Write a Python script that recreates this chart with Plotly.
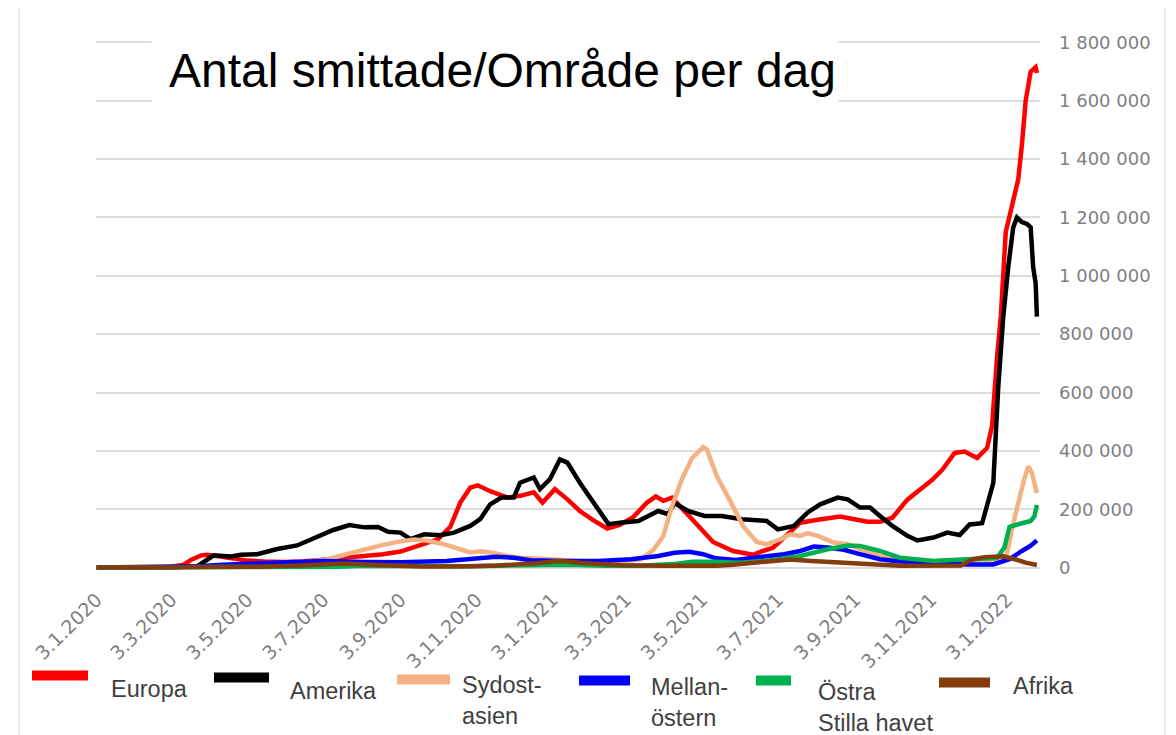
import plotly.graph_objects as go

# tick labels on the date axis (d.m.yyyy, every second month)
tick_dates = ["2020-01-03", "2020-03-03", "2020-05-03", "2020-07-03", "2020-09-03", "2020-11-03",
              "2021-01-03", "2021-03-03", "2021-05-03", "2021-07-03", "2021-09-03", "2021-11-03",
              "2022-01-03"]
tick_labels = ["3.1.2020", "3.3.2020", "3.5.2020", "3.7.2020", "3.9.2020", "3.11.2020",
               "3.1.2021", "3.3.2021", "3.5.2021", "3.7.2021", "3.9.2021", "3.11.2021",
               "3.1.2022"]

# Europa
europa_dates = ["2020-01-03", "2020-03-01", "2020-03-13", "2020-03-19", "2020-03-27", "2020-04-01",
                "2020-04-11", "2020-04-22", "2020-05-03", "2020-05-16", "2020-06-01", "2020-06-17",
                "2020-07-03", "2020-07-19", "2020-08-04", "2020-08-20", "2020-09-03", "2020-09-14",
                "2020-10-03", "2020-10-13", "2020-10-21", "2020-10-29", "2020-11-04", "2020-11-14",
                "2020-11-28", "2020-12-08", "2020-12-19", "2020-12-26", "2021-01-05", "2021-01-15",
                "2021-01-25", "2021-02-05", "2021-02-16", "2021-02-26", "2021-03-09", "2021-03-20",
                "2021-03-27", "2021-04-02", "2021-04-09", "2021-04-21", "2021-05-02", "2021-05-12",
                "2021-05-28", "2021-06-08", "2021-06-13", "2021-06-21", "2021-06-29", "2021-07-05",
                "2021-07-13", "2021-07-21", "2021-08-04", "2021-08-22", "2021-09-13", "2021-09-23",
                "2021-10-03", "2021-10-15", "2021-10-25", "2021-11-04", "2021-11-12", "2021-11-22",
                "2021-11-30", "2021-12-10", "2021-12-18", "2021-12-22", "2021-12-26", "2021-12-29",
                "2022-01-02", "2022-01-05", "2022-01-10", "2022-01-12", "2022-01-15", "2022-01-18",
                "2022-01-22", "2022-01-26", "2022-01-27"]
europa = [0, 1000, 10000, 27000, 42000, 44000,
          38000, 30000, 24000, 21000, 19000, 21000,
          27000, 33000, 38000, 46000, 55000, 69000,
          97000, 140000, 223000, 274000, 282000, 262000,
          240000, 246000, 258000, 223000, 269000, 234000,
          194000, 162000, 134000, 146000, 174000, 223000,
          244000, 229000, 240000, 185000, 132000, 88000,
          57000, 46000, 44000, 57000, 68000, 91000,
          123000, 154000, 164000, 175000, 157000, 157000,
          171000, 233000, 267000, 301000, 335000, 393000,
          398000, 376000, 410000, 485000, 720000, 860000,
          1150000, 1200000, 1290000, 1330000, 1450000, 1600000,
          1700000, 1715000, 1695000]

# Amerika
amerika_dates = ["2020-01-03", "2020-03-01", "2020-03-24", "2020-04-01", "2020-04-06", "2020-04-20",
                 "2020-04-28", "2020-05-11", "2020-05-27", "2020-06-12", "2020-06-28", "2020-07-11",
                 "2020-07-24", "2020-08-05", "2020-08-16", "2020-08-24", "2020-09-03", "2020-09-11",
                 "2020-09-22", "2020-10-05", "2020-10-16", "2020-10-29", "2020-11-06", "2020-11-14",
                 "2020-11-23", "2020-12-03", "2020-12-08", "2020-12-19", "2020-12-24", "2021-01-01",
                 "2021-01-09", "2021-01-15", "2021-01-25", "2021-02-05", "2021-02-17", "2021-02-26",
                 "2021-03-13", "2021-03-29", "2021-04-06", "2021-04-11", "2021-04-22", "2021-05-05",
                 "2021-05-19", "2021-06-04", "2021-06-24", "2021-07-03", "2021-07-16", "2021-07-27",
                 "2021-08-06", "2021-08-20", "2021-08-28", "2021-09-07", "2021-09-15", "2021-09-23",
                 "2021-10-03", "2021-10-15", "2021-10-23", "2021-11-05", "2021-11-16", "2021-11-26",
                 "2021-12-04", "2021-12-14", "2021-12-20", "2021-12-23", "2021-12-27", "2021-12-31",
                 "2022-01-04", "2022-01-08", "2022-01-11", "2022-01-15", "2022-01-19", "2022-01-22",
                 "2022-01-24", "2022-01-26", "2022-01-27"]
amerika = [0, 0, 5000, 27000, 42000, 38000,
           44000, 46000, 64000, 76000, 106000, 129000,
           146000, 138000, 139000, 123000, 120000, 98000,
           114000, 111000, 120000, 143000, 166000, 217000,
           240000, 240000, 291000, 309000, 269000, 303000,
           371000, 360000, 291000, 223000, 149000, 154000,
           160000, 194000, 183000, 221000, 194000, 177000,
           177000, 166000, 160000, 131000, 143000, 189000,
           217000, 240000, 234000, 206000, 206000, 177000,
           143000, 109000, 93000, 103000, 120000, 112000,
           148000, 152000, 240000, 290000, 620000, 860000,
           1030000, 1166000, 1200000, 1184000, 1178000, 1166000,
           1030000, 975000, 860000]

# Sydost-asien
sydost_dates = ["2020-01-03", "2020-03-15", "2020-04-15", "2020-05-15", "2020-06-15", "2020-07-05",
                "2020-07-25", "2020-08-05", "2020-08-20", "2020-09-03", "2020-09-14", "2020-09-25",
                "2020-10-08", "2020-10-21", "2020-10-29", "2020-11-06", "2020-11-17", "2020-11-28",
                "2020-12-08", "2020-12-24", "2021-01-09", "2021-01-25", "2021-02-20", "2021-03-15",
                "2021-03-25", "2021-04-02", "2021-04-09", "2021-04-17", "2021-04-25", "2021-05-04",
                "2021-05-07", "2021-05-15", "2021-05-25", "2021-06-05", "2021-06-16", "2021-06-24",
                "2021-07-05", "2021-07-13", "2021-07-21", "2021-07-27", "2021-08-04", "2021-08-17",
                "2021-08-28", "2021-09-07", "2021-09-23", "2021-10-09", "2021-11-05", "2021-12-02",
                "2021-12-23", "2021-12-31", "2022-01-03", "2022-01-08", "2022-01-12", "2022-01-16",
                "2022-01-20", "2022-01-23", "2022-01-27"]
sydost = [0, 0, 3000, 8000, 16000, 28000,
          50000, 64000, 78000, 90000, 96000, 92000,
          80000, 63000, 52000, 56000, 50000, 40000,
          34000, 30000, 28000, 23000, 17000, 28000,
          60000, 108000, 210000, 303000, 375000, 413000,
          405000, 314000, 234000, 143000, 88000, 80000,
          97000, 114000, 109000, 118000, 109000, 86000,
          80000, 63000, 40000, 29000, 23000, 22000,
          25000, 30000, 50000, 150000, 225000, 290000,
          347000, 325000, 256000]

# Mellanöstern
mellan_dates = ["2020-01-03", "2020-03-01", "2020-03-25", "2020-04-13", "2020-05-06", "2020-06-06",
                "2020-07-03", "2020-08-05", "2020-09-03", "2020-10-10", "2020-11-06", "2020-11-19",
                "2020-12-03", "2020-12-16", "2021-01-13", "2021-02-09", "2021-03-07", "2021-03-29",
                "2021-04-11", "2021-04-23", "2021-05-04", "2021-05-14", "2021-05-30", "2021-06-21",
                "2021-07-08", "2021-07-21", "2021-08-01", "2021-08-12", "2021-08-25", "2021-09-07",
                "2021-09-23", "2021-10-09", "2021-11-05", "2021-12-02", "2021-12-23", "2022-01-05",
                "2022-01-15", "2022-01-22", "2022-01-27"]
mellan = [0, 1000, 5000, 10000, 14000, 20000,
          23000, 19000, 18000, 23000, 34000, 37000,
          34000, 25000, 23000, 23000, 29000, 40000,
          51000, 54000, 46000, 32000, 26000, 38000,
          46000, 57000, 72000, 69000, 61000, 46000,
          29000, 21000, 15000, 11000, 11000, 29000,
          57000, 75000, 93000]

# Östra Stilla havet
ostra_dates = ["2020-01-03", "2020-01-25", "2020-02-06", "2020-02-15", "2020-03-10", "2020-04-10",
               "2020-06-01", "2020-07-15", "2020-08-05", "2020-09-15", "2020-11-01", "2020-12-15",
               "2021-01-15", "2021-02-15", "2021-03-15", "2021-04-10", "2021-04-25", "2021-05-15",
               "2021-06-01", "2021-06-24", "2021-07-21", "2021-08-12", "2021-08-28", "2021-09-07",
               "2021-09-23", "2021-10-09", "2021-11-05", "2021-12-02", "2021-12-26", "2022-01-01",
               "2022-01-05", "2022-01-15", "2022-01-22", "2022-01-25", "2022-01-26", "2022-01-27"]
ostra = [0, 1000, 3000, 2000, 1000, 2000,
         1000, 3000, 6000, 4000, 5000, 8000,
         10000, 6000, 6000, 12000, 20000, 20000,
         17000, 23000, 40000, 63000, 76000, 74000,
         57000, 34000, 23000, 29000, 33000, 70000,
         140000, 152000, 160000, 175000, 208000, 215000]

# Afrika
afrika_dates = ["2020-01-03", "2020-03-15", "2020-04-15", "2020-05-15", "2020-06-15", "2020-07-20",
                "2020-08-15", "2020-09-20", "2020-10-20", "2020-11-20", "2020-12-20", "2021-01-09",
                "2021-01-30", "2021-02-28", "2021-04-01", "2021-05-15", "2021-05-28", "2021-06-24",
                "2021-07-13", "2021-07-30", "2021-08-25", "2021-09-17", "2021-10-09", "2021-11-27",
                "2021-12-06", "2021-12-16", "2021-12-31", "2022-01-10", "2022-01-18", "2022-01-27"]
afrika = [0, 0, 1000, 3000, 7000, 14000,
          9000, 4000, 4000, 7000, 15000, 23000,
          15000, 8000, 6000, 6000, 10000, 22000,
          28000, 23000, 17000, 9000, 6000, 7000,
          28000, 36000, 39000, 28000, 17000, 9000]

series = [
    ("Europa", europa_dates, europa, "#ff0000"),
    ("Amerika", amerika_dates, amerika, "#000000"),
    ("Sydost-<br>asien", sydost_dates, sydost, "#f4b183"),
    ("Mellan-<br>östern", mellan_dates, mellan, "#0000ff"),
    ("Östra<br>Stilla havet", ostra_dates, ostra, "#00b050"),
    ("Afrika", afrika_dates, afrika, "#843c0c"),
]

# page has an 8px body margin, so the figure sits 8px in from the window corner
OFF = 8
W, H = 1168, 735
L, R, T, B = 96, 1040, 37.6, 572.4   # plot area in window pixels


def px(x):
    return (x - L) / (R - L)


def py(y):
    return (B - y) / (B - T)


fig = go.Figure()
for name, d, v, c in series:
    fig.add_trace(go.Scatter(x=d, y=v, mode="lines", name=name,
                             line=dict(color=c, width=4.5), showlegend=False))

# legend drawn by hand: symbol bar, then text lower right of it
leg = [  # sym x0, x1, sym y, text x, text y
    (32, 88, 676, 109, 690),
    (214, 269, 678, 288, 692),
    (397, 450, 680, 460, 701),
    (579, 630, 681, 649, 703),
    (756, 791, 681, 816, 708),
    (939, 990, 683, 1011, 687),
]
shapes = []
annots = []
for (name, d, v, c), (x0, x1, sy, tx, ty) in zip(series, leg):
    shapes.append(dict(type="line", xref="paper", yref="paper", x0=px(x0), x1=px(x1),
                       y0=py(sy), y1=py(sy), line=dict(color=c, width=10)))
    annots.append(dict(text=name, xref="paper", yref="paper", x=px(tx), y=py(ty),
                       xanchor="left", yanchor="middle", showarrow=False, align="left",
                       font=dict(family="Liberation Sans", size=23.5, color="#404040")))

# outer frame
shapes.append(dict(type="rect", xref="paper", yref="paper", x0=px(19), x1=px(1165),
                   y0=py(760), y1=py(6), line=dict(color="#d9d9d9", width=1), layer="below"))

# white box behind the title, hiding the top gridlines
annots.append(dict(text=" ", xref="paper", yref="paper", x=px(495), y=py(70),
                   xanchor="center", yanchor="middle", showarrow=False,
                   width=686, height=98, bgcolor="white", borderpad=0))
annots.append(dict(text="Antal smittade/Område per dag", xref="paper", yref="paper",
                   x=px(502), y=py(70), xanchor="center", yanchor="middle", showarrow=False,
                   font=dict(family="Liberation Sans", size=48, color="black")))

fig.update_layout(
    width=W, height=H,
    margin=dict(l=L - OFF, r=W - (R - OFF), t=T - OFF, b=H - (B - OFF)),
    plot_bgcolor="white", paper_bgcolor="white",
    separators=", ",
    shapes=shapes, annotations=annots,
    xaxis=dict(type="date", range=["2020-01-02 12:00", "2022-01-29 12:00"],
               tickvals=tick_dates, ticktext=tick_labels, tickangle=-45,
               showgrid=False, zeroline=False, showline=False, ticks="",
               ticklabelstandoff=12,
               tickfont=dict(family="DejaVu Sans", size=19, color="#7f7f7f")),
    yaxis=dict(side="right", range=[-15000, 1815000], dtick=200000, tick0=0,
               tickformat=",d", showgrid=True, gridcolor="#dcdcdc", gridwidth=2,
               zeroline=False, showline=False, ticks="", ticklabelstandoff=18,
               tickfont=dict(family="DejaVu Sans", size=18, color="#7f7f7f")),
)

fig.write_html("out.html")
